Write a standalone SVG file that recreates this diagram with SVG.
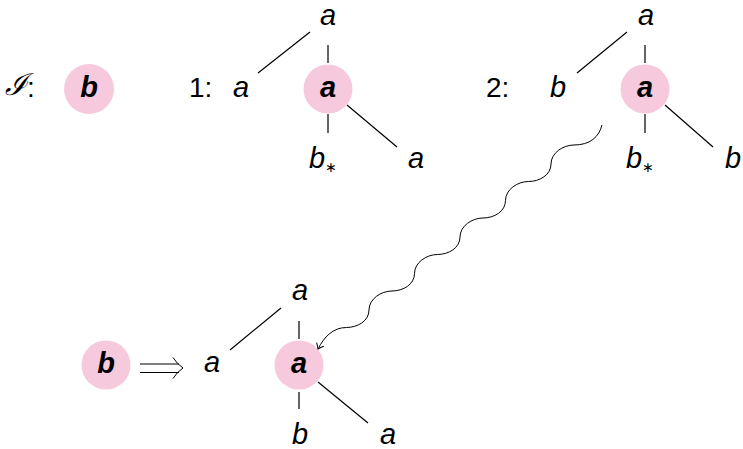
<svg xmlns="http://www.w3.org/2000/svg" width="743" height="449" viewBox="0 0 743 449">
<style>
.t{font-family:"Liberation Sans",Arial,sans-serif;font-size:29px;font-style:italic;fill:#000;text-anchor:middle}
.tb{font-family:"Liberation Sans",Arial,sans-serif;font-size:29px;font-style:italic;font-weight:bold;fill:#000;text-anchor:middle}
.r{font-family:"Liberation Sans",Arial,sans-serif;font-size:28px;fill:#000}
.st{font-family:"DejaVu Sans",sans-serif;font-size:14px;font-style:normal}
.c{fill:#f7c9dd}
.e{stroke:#000;stroke-width:1.2;fill:none}
.w{stroke:#000;stroke-width:1;fill:none}
</style>
<defs>
<marker id="ar" viewBox="-6 -5 8 10" markerWidth="8" markerHeight="10" refX="0" refY="0" orient="auto" markerUnits="userSpaceOnUse">
<path d="M-5,-4 Q-1.5,-1 0,0 Q-1.5,1 -5,4" fill="none" stroke="#000" stroke-width="1"/>
</marker>
</defs>
<g id="init">
<text x="5" y="95" font-family="DejaVu Serif, serif" font-size="30" font-style="italic">ℐ</text>
<text x="27" y="97" class="r">:</text>
<g id="initb"><circle class="c" cx="89" cy="89" r="25"/><text x="89" y="97" class="tb">b</text></g>
</g>
<g id="tree1">
<text x="189" y="97" class="r">1:</text>
<g id="t1left"><text x="241" y="97" class="t">a</text></g>
<g id="t1top"><text x="328" y="25" class="t">a</text></g>
<g id="t1c"><circle class="c" cx="328" cy="89" r="24.5"/><text x="328" y="97" class="tb">a</text></g>
<g id="t1bot"><text x="323" y="168" class="t">b<tspan class="st" dy="4">∗</tspan></text></g>
<g id="t1right"><text x="416" y="168" class="t">a</text></g>
</g>
<g id="tree2">
<text x="486" y="97" class="r">2:</text>
<g id="t2left"><text x="558" y="97" class="t">b</text></g>
<g id="t2top"><text x="646" y="25" class="t">a</text></g>
<g id="t2c"><circle class="c" cx="645" cy="89" r="24.5"/><text x="645" y="97" class="tb">a</text></g>
<g id="t2bot"><text x="640" y="168" class="t">b<tspan class="st" dy="4">∗</tspan></text></g>
<g id="t2right"><text x="733" y="168" class="t">b</text></g>
</g>
<g id="result">
<g id="rb"><circle class="c" cx="106" cy="365" r="24.5"/><text x="106" y="373" class="tb">b</text></g>
<path class="w" d="M140,364 H179 M140,372.5 H179 M173,357.5 Q177,364 183,368 Q177,372 173,378.5"/>
<g id="rleft"><text x="212" y="372" class="t">a</text></g>
<g id="rtop"><text x="300" y="300" class="t">a</text></g>
<g id="rc"><circle class="c" cx="299" cy="365" r="24.5"/><text x="299" y="373" class="tb">a</text></g>
<g id="rbot"><text x="300" y="444" class="t">b</text></g>
<g id="rright"><text x="388" y="444" class="t">a</text></g>
</g>
<g id="connectors">
<path class="e" d="M258,73 L310,32 M328,45 V63 M328,114 V133 M347,105 L397,147"/>
<path class="e" d="M577,73 L627,32 M645,45 V63 M645,114 V133 M665,105 L713,147"/>
<path class="e" d="M230,350 L281,308 M299,321 V339 M299,392 V409 M318,382 L368,423"/>
<path class="w" marker-end="url(#ar)" d="M602,125 C599,137 590,145 574,145 C563,145 551,153 551,164 C551,175 539.5,181.5 528.5,181.5 C517.5,181.5 505.5,189.5 505.5,200.5 C505.5,211.5 494,218 483,218 C472,218 460,226 460,237 C460,248 448.5,254.5 437.5,254.5 C426.5,254.5 414.5,262.5 414.5,273.5 C414.5,284.5 403,291 392,291 C381,291 369,299 369,310 C369,321 357.5,327.5 346.5,327.5 C333,327.5 324,337 318,349"/>
</g>
</svg>
